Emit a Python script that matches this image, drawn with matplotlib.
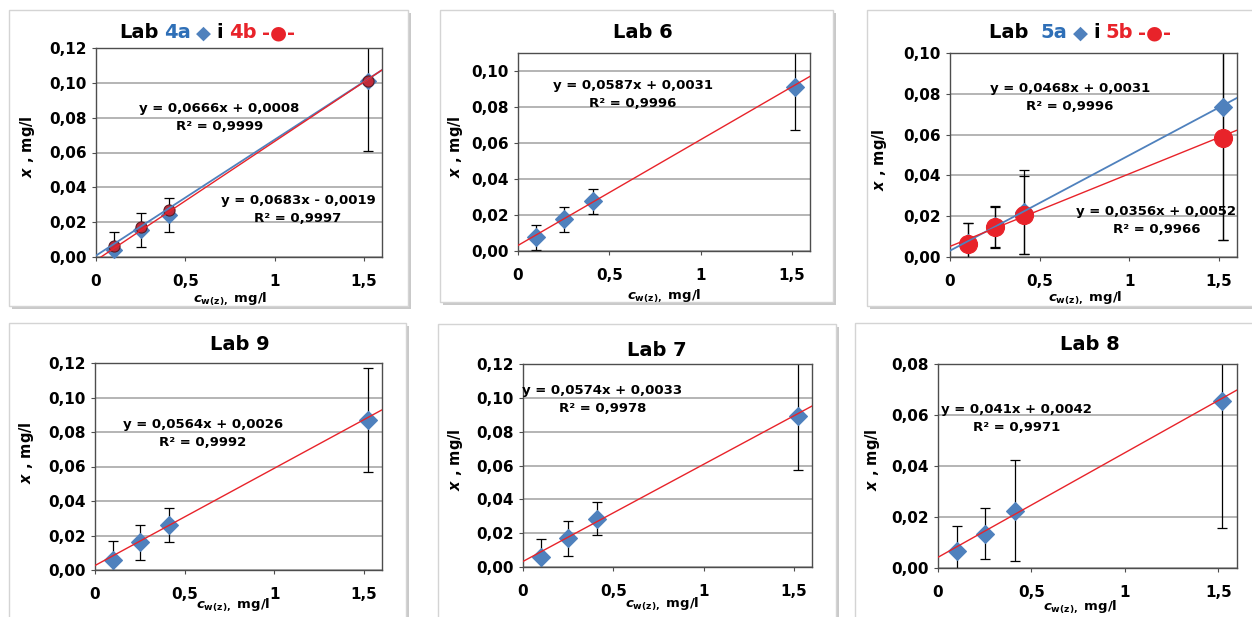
import numpy as np
import matplotlib.pyplot as plt
from matplotlib.patches import Rectangle
from matplotlib.ticker import FuncFormatter, MultipleLocator
from matplotlib.offsetbox import TextArea, HPacker, AnnotationBbox

plt.rcParams['font.family'] = ['DejaVu Sans']
plt.rcParams['font.weight'] = 'bold'
plt.rcParams['mathtext.fontset'] = 'custom'
plt.rcParams['mathtext.rm'] = 'DejaVu Sans:bold'
plt.rcParams['mathtext.it'] = 'DejaVu Sans:italic:bold'
plt.rcParams['mathtext.bf'] = 'DejaVu Sans:bold'

# concentration c_w(z), mg/l (same for all labs)
conc = [0.1, 0.25, 0.41, 1.52]

# Lab 4a / 4b
lab4a_y = [0.004, 0.0155, 0.024, 0.101]
lab4a_err = [0.0104, 0.010, 0.0098, 0.040]
lab4b_y = [0.0063, 0.0172, 0.027, 0.101]
lab4a_fit = [0.0666, 0.0008]
lab4b_fit = [0.0683, -0.0019]
lab4a_eq = 'y = 0,0666x + 0,0008\nR² = 0,9999'
lab4b_eq = 'y = 0,0683x - 0,0019\nR² = 0,9997'

# Lab 6
lab6_y = [0.0075, 0.0175, 0.0275, 0.091]
lab6_err = [0.007, 0.007, 0.007, 0.024]
lab6_fit = [0.0587, 0.0031]
lab6_eq = 'y = 0,0587x + 0,0031\nR² = 0,9996'

# Lab 5a / 5b
lab5a_y = [0.007, 0.015, 0.022, 0.0735]
lab5a_err = [0.0095, 0.010, 0.0205, 0.065]
lab5b_y = [0.0065, 0.0145, 0.0205, 0.0585]
lab5b_err = [0.010, 0.010, 0.0190, 0.050]
lab5a_fit = [0.0468, 0.0031]
lab5b_fit = [0.0356, 0.0052]
lab5a_eq = 'y = 0,0468x + 0,0031\nR² = 0,9996'
lab5b_eq = 'y = 0,0356x + 0,0052\nR² = 0,9966'

# Lab 9
lab9_y = [0.006, 0.016, 0.026, 0.087]
lab9_err = [0.011, 0.010, 0.010, 0.030]
lab9_fit = [0.0564, 0.0026]
lab9_eq = 'y = 0,0564x + 0,0026\nR² = 0,9992'

# Lab 7
lab7_y = [0.006, 0.017, 0.0285, 0.089]
lab7_err = [0.0105, 0.0103, 0.0098, 0.0315]
lab7_fit = [0.0574, 0.0033]
lab7_eq = 'y = 0,0574x + 0,0033\nR² = 0,9978'

# Lab 8
lab8_y = [0.0065, 0.0135, 0.0225, 0.0655]
lab8_err = [0.010, 0.010, 0.0197, 0.050]
lab8_fit = [0.041, 0.0042]
lab8_eq = 'y = 0,041x + 0,0042\nR² = 0,9971'

W, H = 1252, 617
BLUE = '#4f81bd'
RED = '#e8232a'
TITLE_BLUE = '#2e6fb7'

fig = plt.figure(figsize=(W / 100, H / 100), dpi=100)


def fx(px):
    return px / W


def fy(py):
    return 1 - py / H


def make_panel(frame, rect, ymax, ystep, xlab_pos, ylab_pos):
    # frame with a soft shadow, behind the axes
    l, t, r, b = frame
    fig.patches.append(Rectangle((fx(l + 3), fy(b + 3)), fx(r - l), (b - t) / H,
                                 transform=fig.transFigure, fc='#c9c9c9', ec='none', zorder=-2))
    fig.patches.append(Rectangle((fx(l), fy(b)), fx(r - l), (b - t) / H,
                                 transform=fig.transFigure, fc='white', ec='#d4d4d4', lw=1, zorder=-1))
    l, t, r, b = rect
    ax = fig.add_axes([fx(l), fy(b), fx(r - l), (b - t) / H])
    ax.set_zorder(1)
    ax.patch.set_alpha(0)
    ax.set_xlim(0, 1.6)
    ax.set_ylim(0, ymax)
    ax.xaxis.set_major_locator(MultipleLocator(0.5))
    ax.yaxis.set_major_locator(MultipleLocator(ystep))
    ax.xaxis.set_major_formatter(FuncFormatter(lambda v, p: ('%g' % v).replace('.', ',')))
    ax.yaxis.set_major_formatter(FuncFormatter(lambda v, p: ('%.2f' % v).replace('.', ',')))
    ax.grid(axis='y', color='#a0a0a0', lw=1.1)
    ax.set_axisbelow(True)
    for s in ax.spines.values():
        s.set_color('#4d4d4d')
        s.set_linewidth(1)
    ax.tick_params(axis='both', labelsize=11, length=3, color='#4d4d4d', direction='out')
    ax.tick_params(axis='x', pad=9)
    ax.set_xlabel(r'$\mathit{c}_{\mathrm{w(z),}}$ mg/l', fontsize=9.5, fontweight='bold', va='center')
    ax.xaxis.set_label_coords(*xlab_pos)
    ax.set_ylabel(r'$\mathit{x}$ , mg/l', fontsize=10.5, fontweight='bold', va='center')
    ax.yaxis.set_label_coords(*ylab_pos)
    return ax


def trend(ax, fit, color, lw=1.0):
    xs = np.linspace(0, 1.6, 50)
    ax.plot(xs, fit[0] * xs + fit[1], color=color, lw=lw, zorder=4)


def series(ax, y, err, marker, color, ms, ec=None):
    if err is not None:
        ax.errorbar(conc, y, yerr=err, fmt='none', ecolor='black', elinewidth=0.9,
                    capsize=3.5, capthick=0.9, zorder=2)
    ax.plot(conc, y, ls='none', marker=marker, ms=ms, mfc=color,
            mec=ec if ec else color, mew=0.8, zorder=3, clip_on=False)


def eq(ax, x, y, s):
    ax.text(x, y, s, ha='center', va='center', fontsize=9.5, fontweight='bold',
            linespacing=1.5, zorder=6)


def title(cx, cy, parts):
    boxes = [TextArea(s, textprops=dict(color=c, fontsize=14, fontweight='bold')) for s, c in parts]
    pack = HPacker(children=boxes, align='baseline', pad=0, sep=4)
    ab = AnnotationBbox(pack, (fx(cx), fy(cy)), xycoords='figure fraction',
                        frameon=False, box_alignment=(0.5, 0.5), pad=0)
    fig.add_artist(ab)


# Lab 4a i 4b
ax = make_panel((9, 10, 408, 306), (96, 48, 382, 257), 0.12, 0.02, (0.47, -0.2), (-0.24, 0.53))
series(ax, lab4a_y, lab4a_err, 'D', BLUE, 8)
series(ax, lab4b_y, None, 'o', '#c02a3a', 8, ec='#5a1d25')
trend(ax, lab4a_fit, BLUE, 1.3)
trend(ax, lab4b_fit, RED)
eq(ax, 0.69, 0.080, lab4a_eq)
eq(ax, 1.13, 0.0273, lab4b_eq)
title(207, 33, [('Lab', 'black'), ('4a', TITLE_BLUE), ('◆', BLUE), ('i', 'black'),
                ('4b', RED), ('-●-', RED)])

# Lab 6
ax = make_panel((440, 10, 833, 302), (518, 53, 810, 251), 0.11, 0.02, (0.5, -0.225), (-0.215, 0.525))
series(ax, lab6_y, lab6_err, 'D', BLUE, 9)
trend(ax, lab6_fit, RED)
eq(ax, 0.63, 0.087, lab6_eq)
title(643, 32, [('Lab 6', 'black')])

# Lab 5a i 5b
ax = make_panel((867, 10, 1262, 306), (950, 53, 1237, 257), 0.10, 0.02, (0.47, -0.2), (-0.245, 0.475))
series(ax, lab5a_y, lab5a_err, 'D', BLUE, 9)
series(ax, lab5b_y, lab5b_err, 'o', RED, 13)
trend(ax, lab5a_fit, BLUE, 1.3)
trend(ax, lab5b_fit, RED)
eq(ax, 0.67, 0.078, lab5a_eq)
eq(ax, 1.15, 0.0177, lab5b_eq)
title(1080, 33, [('Lab ', 'black'), ('5a', TITLE_BLUE), ('◆', BLUE), ('i', 'black'),
                 ('5b', RED), ('-●-', RED)])

# Lab 9
ax = make_panel((9, 323, 406, 630), (95, 363, 382, 570), 0.12, 0.02, (0.48, -0.165), (-0.24, 0.565))
series(ax, lab9_y, lab9_err, 'D', BLUE, 9)
trend(ax, lab9_fit, RED)
eq(ax, 0.60, 0.079, lab9_eq)
title(240, 345, [('Lab 9', 'black')])

# Lab 7
ax = make_panel((438, 324, 836, 630), (523, 364, 812, 567), 0.12, 0.02, (0.48, -0.18), (-0.235, 0.53))
series(ax, lab7_y, lab7_err, 'D', BLUE, 9)
trend(ax, lab7_fit, RED)
eq(ax, 0.44, 0.0993, lab7_eq)
title(657, 350, [('Lab 7', 'black')])

# Lab 8
ax = make_panel((855, 323, 1262, 630), (938, 364, 1237, 568), 0.08, 0.02, (0.475, -0.19), (-0.22, 0.53))
series(ax, lab8_y, lab8_err, 'D', BLUE, 9)
trend(ax, lab8_fit, RED)
eq(ax, 0.42, 0.0585, lab8_eq)
title(1090, 345, [('Lab 8', 'black')])

fig.savefig('out.png', dpi=100)
